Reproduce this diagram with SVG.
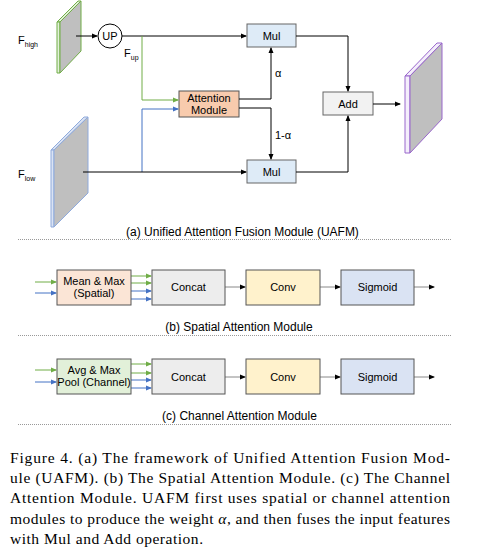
<svg xmlns="http://www.w3.org/2000/svg" width="486" height="554" viewBox="0 0 486 554">
<defs>
<marker id="ak" markerWidth="6" markerHeight="6" refX="5" refY="3" orient="auto" markerUnits="userSpaceOnUse"><path d="M0,0.5 L6,3 L0,5.5 Z" fill="#000"/></marker>
<marker id="ag" markerWidth="6" markerHeight="6" refX="5" refY="3" orient="auto" markerUnits="userSpaceOnUse"><path d="M0,0.5 L6,3 L0,5.5 Z" fill="#70ad47"/></marker>
<marker id="ab" markerWidth="6" markerHeight="6" refX="5" refY="3" orient="auto" markerUnits="userSpaceOnUse"><path d="M0,0.5 L6,3 L0,5.5 Z" fill="#4472c4"/></marker>
</defs>
<style>
.t{font-family:"Liberation Sans",Arial,sans-serif;font-size:11px;fill:#000}
.s{font-size:12px}
.c{text-anchor:middle}
.box{stroke:#555;stroke-width:1}
.k{fill:none;stroke:#000;stroke-width:1;marker-end:url(#ak)}
.kg{fill:none;stroke:#888;stroke-width:1;marker-end:url(#ak)}
.g{fill:none;stroke:#70ad47;stroke-width:1;marker-end:url(#ag)}
.b{fill:none;stroke:#4472c4;stroke-width:1;marker-end:url(#ab)}
.dash{stroke:#999;stroke-width:1;stroke-dasharray:1,1}
.cap{font-family:"Liberation Serif","Times New Roman",serif;font-size:15.5px;fill:#000}
</style>
<rect width="486" height="554" fill="#fff"/>

<!-- (a) UAFM -->
<g id="fhigh">
<polygon points="57,22 78,1 81,1 60,22" fill="#e2f0d9" stroke="#70ad47"/>
<polygon points="57,22 60,22 60,73 57,73" fill="#e2f0d9" stroke="#70ad47"/>
<polygon points="60,22 81,1 81,51 60,73" fill="#bfbfbf" stroke="#70ad47"/>
<text class="t" x="18" y="44" font-size="12">F<tspan font-size="7" dy="3">high</tspan></text>
</g>
<g id="up">
<circle cx="110" cy="36" r="12" fill="#fff" stroke="#000"/>
<text class="t c" x="110" y="40">UP</text>
</g>
<g id="fup-label"><text class="t" x="124" y="57" font-size="12">F<tspan font-size="7" dy="3">up</tspan></text></g>
<g id="flow">
<polygon points="51,150 84,117 88,117 54,150" fill="#dae3f3" stroke="#8faadc"/>
<polygon points="51,150 54,150 54,227 51,227" fill="#dae3f3" stroke="#8faadc"/>
<polygon points="54,150 88,117 88,193 54,227" fill="#bfbfbf" stroke="#8faadc"/>
<text class="t" x="18" y="178" font-size="12">F<tspan font-size="7" dy="3">low</tspan></text>
</g>
<g id="attention">
<rect class="box" x="179" y="91" width="60" height="26" fill="#f8cbad"/>
<text class="t c" x="209" y="102">Attention</text>
<text class="t c" x="209" y="114">Module</text>
</g>
<g id="mul1">
<rect x="247" y="24" width="49" height="23" fill="#deebf7" stroke="#666"/>
<text class="t c" x="271.5" y="40">Mul</text>
</g>
<g id="mul2">
<rect x="247" y="160" width="49" height="23" fill="#deebf7" stroke="#666"/>
<text class="t c" x="271.5" y="176">Mul</text>
</g>
<g id="add">
<rect x="323" y="92" width="50" height="23" fill="#f2f2f2" stroke="#666"/>
<text class="t c" x="348" y="108">Add</text>
</g>
<g id="out">
<polygon points="405,76 437,43 442,43 410,76" fill="#f4eefb" stroke="#9966cc"/>
<polygon points="405,76 410,76 410,153 405,153" fill="#f4eefb" stroke="#9966cc"/>
<polygon points="410,76 442,43 442,119 410,153" fill="#bfbfbf" stroke="#9966cc"/>
</g>

<g id="connectors">
<path class="k" d="M76,36 H97"/>
<path class="k" d="M122,36 H246"/>
<path class="g" d="M142,36 V100 H178"/>
<path class="b" d="M142,172 V109 H178"/>
<path class="k" d="M83,172 H246"/>
<path class="k" d="M239,99 H271 V48"/>
<path class="k" d="M239,108 H271 V159"/>
<path class="k" d="M296,36 H348 V91"/>
<path class="k" d="M296,172 H348 V116"/>
<path class="k" d="M373,104 H400"/>
<text class="t" x="275" y="77">α</text>
<text class="t" x="275" y="139">1-α</text>

<!-- (b) -->
<path class="g" d="M35,282 H56"/>
<path class="b" d="M35,293 H56"/>
<path class="g" d="M131,276 H151"/>
<path class="g" d="M131,283 H151"/>
<path class="b" d="M131,291 H151"/>
<path class="b" d="M131,299 H151"/>
<path class="kg" d="M225,287 H245"/>
<path class="kg" d="M320,287 H340"/>
<path class="kg" d="M414,287 H434"/>
<!-- (c) -->
<path class="g" d="M35,370 H56"/>
<path class="b" d="M35,382 H56"/>
<path class="g" d="M131,364 H151"/>
<path class="g" d="M131,373 H151"/>
<path class="b" d="M131,380 H151"/>
<path class="b" d="M131,388 H151"/>
<path class="kg" d="M225,377 H245"/>
<path class="kg" d="M320,377 H340"/>
<path class="kg" d="M414,377 H434"/>
</g>

<text class="t s c" x="242.5" y="236">(a) Unified Attention Fusion Module (UAFM)</text>
<line class="dash" x1="18" y1="239.5" x2="452" y2="239.5"/>

<g id="meanmax">
<rect class="box" x="57" y="270" width="74" height="35" fill="#fbe5d6"/>
<text class="t c" x="94" y="285">Mean &amp; Max</text>
<text class="t c" x="94" y="297">(Spatial)</text>
</g>
<g id="concat1">
<rect class="box" x="152" y="270" width="73" height="35" fill="#ededed"/>
<text class="t c" x="188.5" y="291">Concat</text>
</g>
<g id="conv1">
<rect class="box" x="246" y="270" width="74" height="35" fill="#fff2cc"/>
<text class="t c" x="283" y="291">Conv</text>
</g>
<g id="sigmoid1">
<rect class="box" x="341" y="270" width="73" height="35" fill="#dae3f3"/>
<text class="t c" x="377.5" y="291">Sigmoid</text>
</g>
<text class="t s c" x="239" y="331">(b) Spatial Attention Module</text>
<line class="dash" x1="18" y1="335.5" x2="452" y2="335.5"/>

<g id="avgmax">
<rect class="box" x="57" y="359" width="74" height="35" fill="#e2f0d9"/>
<text class="t c" x="94" y="374">Avg &amp; Max</text>
<text class="t c" x="94" y="386">Pool (Channel)</text>
</g>
<g id="concat2">
<rect class="box" x="152" y="359" width="73" height="35" fill="#ededed"/>
<text class="t c" x="188.5" y="381">Concat</text>
</g>
<g id="conv2">
<rect class="box" x="246" y="359" width="74" height="35" fill="#fff2cc"/>
<text class="t c" x="283" y="381">Conv</text>
</g>
<g id="sigmoid2">
<rect class="box" x="341" y="359" width="73" height="35" fill="#dae3f3"/>
<text class="t c" x="377.5" y="381">Sigmoid</text>
</g>
<text class="t s c" x="239.5" y="420">(c) Channel Attention Module</text>
<line class="dash" x1="18" y1="424.5" x2="452" y2="424.5"/>

<g id="caption">
<text class="cap" x="10" y="463" textLength="440" lengthAdjust="spacing">Figure 4.  (a) The framework of Unified Attention Fusion Mod-</text>
<text class="cap" x="10" y="483" textLength="440" lengthAdjust="spacing">ule (UAFM). (b) The Spatial Attention Module. (c) The Channel</text>
<text class="cap" x="10" y="503" textLength="440" lengthAdjust="spacing">Attention Module.  UAFM first uses spatial or channel attention</text>
<text class="cap" x="10" y="524" textLength="440" lengthAdjust="spacing">modules to produce the weight <tspan font-style="italic">α</tspan>, and then fuses the input features</text>
<text class="cap" x="10" y="544" textLength="193" lengthAdjust="spacing">with Mul and Add operation.</text>
</g>
</svg>
